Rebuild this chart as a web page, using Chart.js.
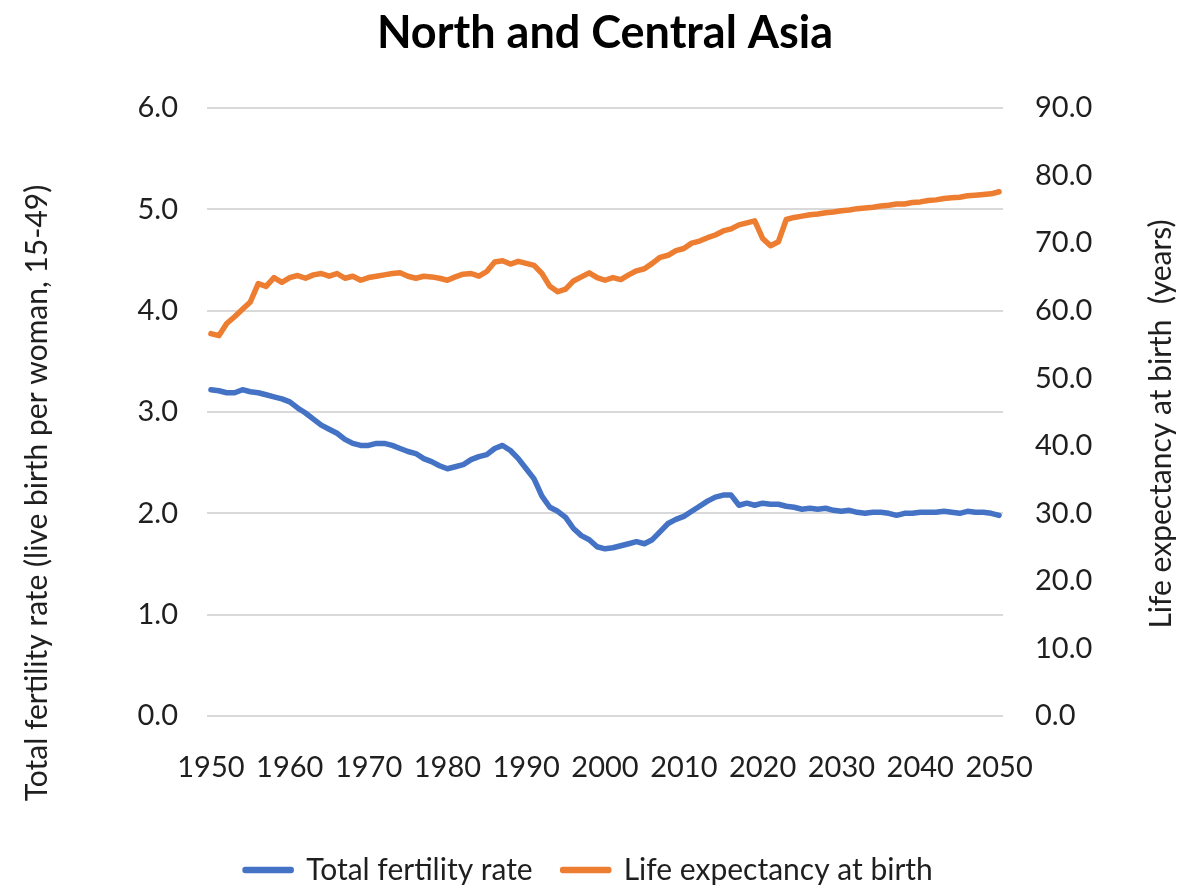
<!DOCTYPE html>
<html>
<head>
<meta charset="utf-8">
<title>North and Central Asia</title>
<script src="https://cdn.jsdelivr.net/npm/chart.js@4.4.1/dist/chart.umd.min.js"></script>
<style>
  html, body { margin: 0; padding: 0; background: #fff; }
  #wrap { width: 1178px; height: 885px; position: relative; }
</style>
</head>
<body>
<div id="wrap"><canvas id="demoChart"></canvas></div>
<script>
/* ======================================================
   DATA
====================================================== */

const chartTitle = "North and Central Asia";
const leftAxisTitle = "Total fertility rate (live birth per woman, 15-49)";
const rightAxisTitle = "Life expectancy at birth  (years)";

const years = [];
for (let y = 1950; y <= 2050; y++) years.push(y);

const fertility = [
  3.22, 3.21, 3.19, 3.19, 3.22, 3.20, 3.19, 3.17, 3.15, 3.13,
  3.10, 3.04, 2.99, 2.93, 2.87, 2.83, 2.79, 2.73, 2.69, 2.67,
  2.67, 2.69, 2.69, 2.67, 2.64, 2.61, 2.59, 2.54, 2.51, 2.47,
  2.44, 2.46, 2.48, 2.53, 2.56, 2.58, 2.64, 2.67, 2.62, 2.54,
  2.44, 2.34, 2.17, 2.06, 2.02, 1.96, 1.85, 1.78, 1.74, 1.67,
  1.65, 1.66, 1.68, 1.70, 1.72, 1.70, 1.74, 1.82, 1.90, 1.94,
  1.97, 2.02, 2.07, 2.12, 2.16, 2.18, 2.18, 2.08, 2.10, 2.08,
  2.10, 2.09, 2.09, 2.07, 2.06, 2.04, 2.05, 2.04, 2.05, 2.03,
  2.02, 2.03, 2.01, 2.00, 2.01, 2.01, 2.00, 1.98, 2.00, 2.00,
  2.01, 2.01, 2.01, 2.02, 2.01, 2.00, 2.02, 2.01, 2.01, 2.00,
  1.98
];

const lifeExpectancy = [
  56.6, 56.3, 58.1, 59.1, 60.2, 61.3, 64.0, 63.6, 64.9, 64.2,
  64.9, 65.2, 64.8, 65.3, 65.5, 65.1, 65.5, 64.8, 65.1, 64.5,
  64.9, 65.1, 65.3, 65.5, 65.6, 65.1, 64.8, 65.1, 65.0, 64.8,
  64.5, 65.0, 65.4, 65.5, 65.1, 65.8, 67.2, 67.4, 66.9, 67.3,
  67.0, 66.7, 65.5, 63.6, 62.8, 63.2, 64.4, 65.0, 65.6, 64.9,
  64.5, 64.9, 64.6, 65.3, 65.9, 66.2, 67.0, 67.9, 68.2, 68.9,
  69.2, 70.0, 70.3, 70.8, 71.2, 71.8, 72.1, 72.7, 73.0, 73.3,
  70.7, 69.6, 70.2, 73.5, 73.8, 74.0, 74.2, 74.3, 74.5, 74.6,
  74.8, 74.9, 75.1, 75.2, 75.3, 75.5, 75.6, 75.8, 75.8, 76.0,
  76.1, 76.3, 76.4, 76.6, 76.7, 76.8, 77.0, 77.1, 77.2, 77.3,
  77.6
];

const BLUE = "#4472C4";
const ORANGE = "#ED7D31";
const TEXT = "#1f1f1f";
const GRID = "#d9d9d9";
const FONT = "Lato";

/* ======================================================
   AXIS TITLES (rotated, both read bottom-to-top)
====================================================== */

const axisTitles = {
  id: "axisTitles",
  afterDraw(chart) {
    const ctx = chart.ctx;
    ctx.save();
    ctx.fillStyle = TEXT;
    ctx.font = "30px " + FONT;
    ctx.textAlign = "center";
    ctx.textBaseline = "middle";

    ctx.save();
    ctx.translate(37, 493);
    ctx.rotate(-Math.PI / 2);
    ctx.fillText(leftAxisTitle, 0, 0);
    ctx.restore();

    ctx.save();
    ctx.translate(1161, 424);
    ctx.rotate(-Math.PI / 2);
    ctx.fillText(rightAxisTitle, 0, 0);
    ctx.restore();

    ctx.restore();
  }
};

/* ======================================================
   CHART
====================================================== */

Chart.defaults.font.family = FONT;
Chart.defaults.color = TEXT;

new Chart(document.getElementById("demoChart"), {
  type: "line",
  data: {
    labels: years,
    datasets: [
      {
        label: "Total fertility rate",
        data: fertility,
        yAxisID: "y",
        borderColor: BLUE,
        backgroundColor: BLUE,
        borderWidth: 5.5,
        pointRadius: 0,
        borderJoinStyle: "round",
        borderCapStyle: "round",
        tension: 0
      },
      {
        label: "Life expectancy at birth",
        data: lifeExpectancy,
        yAxisID: "y1",
        borderColor: ORANGE,
        backgroundColor: ORANGE,
        borderWidth: 5.5,
        pointRadius: 0,
        borderJoinStyle: "round",
        borderCapStyle: "round",
        tension: 0
      }
    ]
  },
  options: {
    responsive: true,
    maintainAspectRatio: false,
    animation: false,
    layout: { padding: { bottom: -10 } },
    plugins: {
      title: {
        display: true,
        text: chartTitle,
        fullSize: false,
        color: "#000",
        font: { size: 45, weight: "bold", lineHeight: 1.2 },
        padding: { top: 6, bottom: 48 }
      },
      legend: {
        position: "bottom",
        labels: {
          boxWidth: 46,
          boxHeight: 1,
          padding: 30,
          font: { size: 30 },
          color: TEXT
        }
      },
      tooltip: { enabled: false }
    },
    scales: {
      x: {
        type: "category",
        offset: true,
        grid: { display: false },
        border: { display: false },
        ticks: {
          autoSkip: false,
          maxRotation: 0,
          padding: 26,
          font: { size: 29 },
          callback(value) {
            const yr = this.getLabelForValue(value);
            return yr % 10 === 0 ? String(yr) : "";
          }
        },
        afterFit(scale) { scale.height = 109; }
      },
      y: {
        position: "left",
        min: 0,
        max: 6,
        grid: { color: GRID, lineWidth: 2, drawTicks: false },
        border: { display: false },
        ticks: {
          stepSize: 1,
          padding: 29,
          font: { size: 29 },
          callback: v => v.toFixed(1)
        },
        afterFit(scale) { scale.width = 207; }
      },
      y1: {
        position: "right",
        min: 0,
        max: 90,
        grid: { display: false, drawTicks: false },
        border: { display: false },
        ticks: {
          stepSize: 10,
          padding: 32,
          font: { size: 29 },
          callback: v => v.toFixed(1)
        },
        afterFit(scale) { scale.width = 175; }
      }
    }
  },
  plugins: [axisTitles]
});
</script>
</body>
</html>
